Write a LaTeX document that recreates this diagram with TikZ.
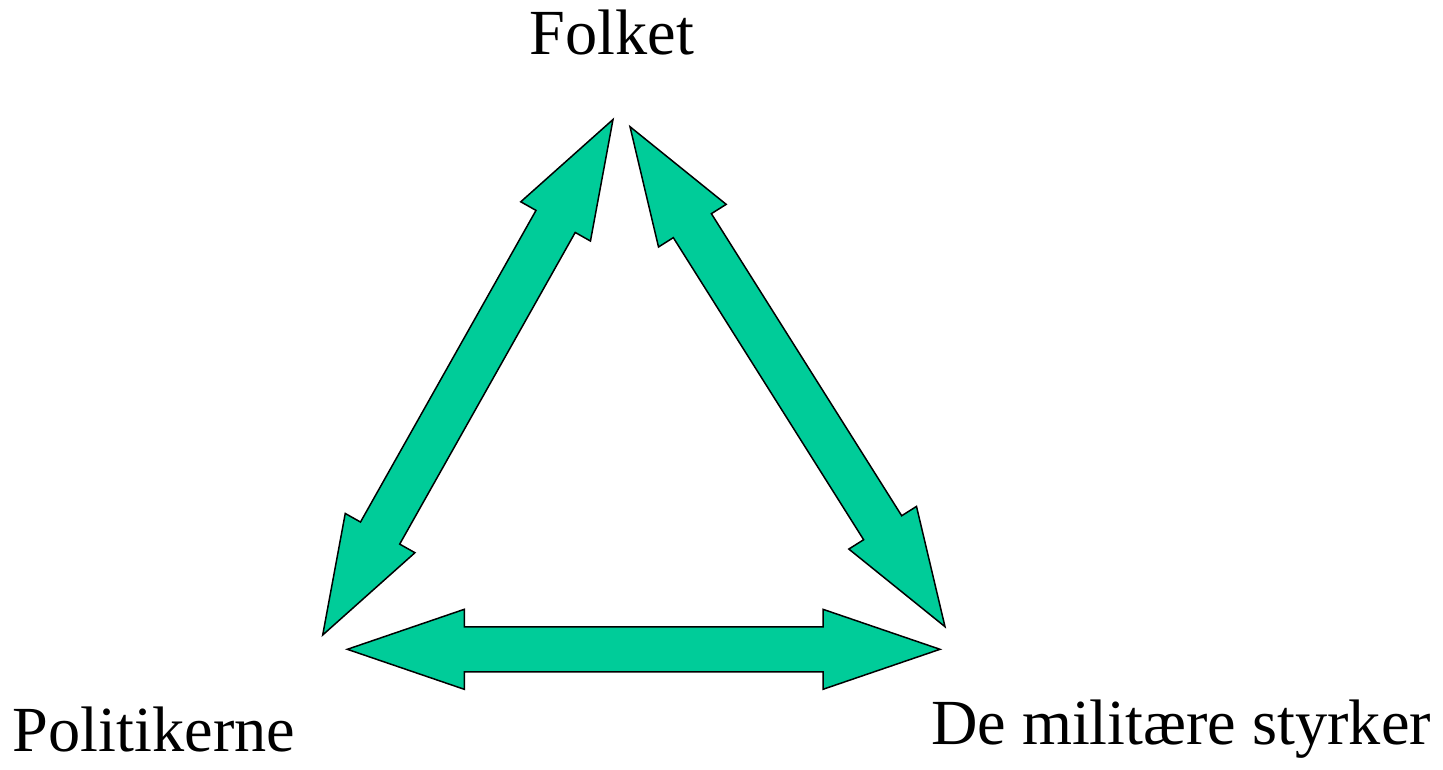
\documentclass[tikz,border=0pt]{standalone}
\usepackage{fontspec}
\setmainfont{Liberation Serif}
\usepackage{tikz}
\usetikzlibrary{calc}
\definecolor{arrowgreen}{RGB}{0,204,153}

\tikzset{
  fatarrow/.style={fill=arrowgreen, draw=black, line width=0.85pt, line join=miter},
  label/.style={anchor=base, inner sep=0pt, font=\fontsize{36.6}{44}\selectfont}
}

% head length, head half width, shaft half width
\newcommand{\headlen}{2.34cm}
\newcommand{\headhalf}{0.8cm}
\newcommand{\shafthalf}{0.45cm}
\newcommand{\twoway}[2]{%
  \filldraw[fatarrow] (#1)
    -- ($(#1)!\headlen!(#2)!\headhalf!90:(#2)$)
    -- ($(#1)!\headlen!(#2)!\shafthalf!90:(#2)$)
    -- ($(#2)!\headlen!(#1)!\shafthalf!-90:(#1)$)
    -- ($(#2)!\headlen!(#1)!\headhalf!-90:(#1)$)
    -- (#2)
    -- ($(#2)!\headlen!(#1)!\headhalf!90:(#1)$)
    -- ($(#2)!\headlen!(#1)!\shafthalf!90:(#1)$)
    -- ($(#1)!\headlen!(#2)!\shafthalf!-90:(#2)$)
    -- ($(#1)!\headlen!(#2)!\headhalf!-90:(#2)$)
    -- cycle;}

\begin{document}
\begin{tikzpicture}[x=0.02cm, y=-0.02cm]
   \useasboundingbox (0,0) rectangle (1443,770);

   % arrow tips
   \coordinate (lefttop) at (613,119.5);
   \coordinate (leftbot) at (322.7,635);
   \coordinate (righttop) at (630,126.7);
   \coordinate (rightbot) at (945,626.7);
   \coordinate (botleft) at (347.3,649.3);
   \coordinate (botright) at (940,649.3);

   \twoway{lefttop}{leftbot}
   \twoway{righttop}{rightbot}
   \twoway{botleft}{botright}

   \node[label] (folket) at (612,55) {Folket};
   \node[label] (politikerne) at (154,751) {Politikerne};
   \node[label] (militaere) at (1181,744) {De militære styrker};
  \end{tikzpicture}
\end{document}
